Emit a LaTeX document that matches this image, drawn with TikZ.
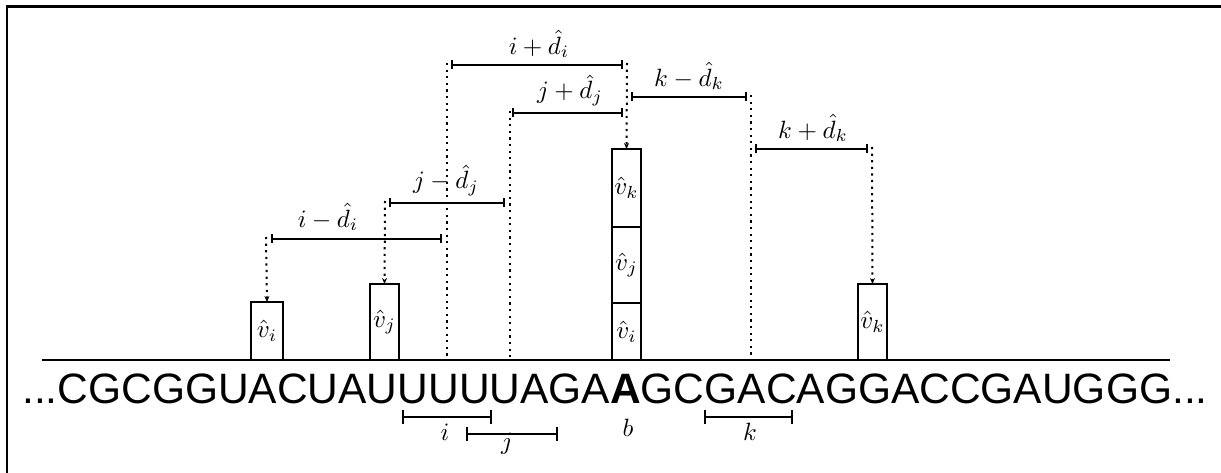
\documentclass[tikz,border=0pt]{standalone}
\usepackage{fontspec}
\usepackage{graphicx}
\newfontfamily\seqfont{Liberation Sans}
\usetikzlibrary{arrows.meta}
\newcommand\mlab[1]{\scalebox{2.5}{$#1$}}
\begin{document}
\begin{tikzpicture}[x=1pt,y=-1pt,
  vbox/.style={draw, line width=2pt, minimum width=29pt, inner sep=0pt, outer sep=0pt, anchor=south},
  lab/.style={inner sep=0pt},
  dimbar/.style={line width=2pt, {Bar[width=9pt,line width=1.6pt]}-{Bar[width=9pt,line width=1.6pt]}},
  lowbar/.style={line width=2pt, {Bar[width=14pt,line width=1.6pt]}-{Bar[width=14pt,line width=1.6pt]}},
  guide/.style={line width=2pt, dash pattern=on 2.2pt off 4.4pt},
  guidearr/.style={guide, -{Stealth[length=6pt,width=5pt]}},
  frame/.style={line width=2.6pt},
  axis/.style={line width=2pt}]
\useasboundingbox (0,0) rectangle (1221,473);
% frame
\coordinate (fb) at (7,474);
\coordinate (fc) at (7,6.5);
\coordinate (fr) at (1222,6.5);
\draw[frame] (fb) -- (fc) -- (fr);
% axis
\coordinate (axl) at (42,360);
\coordinate (axr) at (1170,360);
\draw[axis] (axl) -- (axr);
% sequence
\node[anchor=base west, inner sep=0pt, font=\seqfont\fontsize{42.5}{50}\selectfont] (seq) at (22,403)
  {...CGCGGUACUAUUUUUAGA\textbf{A}GCGACAGGACCGAUGGG...};
% boxes
\node[vbox, minimum width=32pt, minimum height=58pt] (vi) at (267,360) {\mlab{\hat v_i}};
\node[vbox, minimum height=76pt] (vj) at (384.5,360) {\mlab{\hat v_j}};
\node[vbox, minimum height=76pt] (vk) at (872.5,360) {\mlab{\hat v_k}};
\node[vbox, minimum height=57pt] (si) at (626.5,360) {\mlab{\hat v_i}};
\node[vbox, minimum height=76pt] (sj) at (si.north) {\mlab{\hat v_j}};
\node[vbox, minimum height=78pt] (sk) at (sj.north) {\mlab{\hat v_k}};
% guide lines
\coordinate (g1t) at (447,63);  \coordinate (g1b) at (447,360);
\coordinate (g2t) at (510,111); \coordinate (g2b) at (510,360);
\coordinate (g3t) at (627,63);
\coordinate (g4t) at (751,95);  \coordinate (g4b) at (751,360);
\coordinate (g5t) at (872,147);
\coordinate (g6t) at (266,237);
\coordinate (g7t) at (385,201);
\draw[guide] (g1t) -- (g1b);
\draw[guide] (g2t) -- (g2b);
\draw[guide] (g4t) -- (g4b);
\draw[guidearr] (g3t) -- (sk.north);
\draw[guidearr] (g5t) -- (vk.north);
\draw[guidearr] (g6t) -- (vi.north);
\draw[guidearr] (g7t) -- (vj.north);
% dimension bars
\coordinate (ipa) at (451,65);  \coordinate (ipb) at (623,65);
\coordinate (kma) at (631,97);  \coordinate (kmb) at (747,97);
\coordinate (jpa) at (512,113); \coordinate (jpb) at (623,113);
\coordinate (kpa) at (755,149); \coordinate (kpb) at (868,149);
\coordinate (jma) at (389,203); \coordinate (jmb) at (505,203);
\coordinate (ima) at (271,239); \coordinate (imb) at (442,239);
\draw[dimbar] (ipa) -- (ipb);
\draw[dimbar] (kma) -- (kmb);
\draw[dimbar] (jpa) -- (jpb);
\draw[dimbar] (kpa) -- (kpb);
\draw[dimbar] (jma) -- (jmb);
\draw[dimbar] (ima) -- (imb);
\node[lab, anchor=south] (ipl) at (539,58) {\mlab{i+\hat d_i}};
\node[lab, anchor=south] (kml) at (689,90) {\mlab{k-\hat d_k}};
\node[lab, anchor=south] (jpl) at (570,106) {\mlab{j+\hat d_j}};
\node[lab, anchor=south] (kpl) at (813,142) {\mlab{k+\hat d_k}};
\node[lab, anchor=south] (jml) at (446,196) {\mlab{j-\hat d_j}};
\node[lab, anchor=south] (iml) at (328,231) {\mlab{i-\hat d_i}};
% lower brackets
\coordinate (bia) at (402,417); \coordinate (bib) at (492,417);
\coordinate (bja) at (466,434); \coordinate (bjb) at (558,434);
\coordinate (bka) at (704,417); \coordinate (bkb) at (793,417);
\draw[lowbar] (bia) -- (bib);
\draw[lowbar] (bja) -- (bjb);
\draw[lowbar] (bka) -- (bkb);
\node[lab] (li) at (445,432) {\mlab{i}};
\node[lab] (lj) at (507,444) {\mlab{j}};
\node[lab] (lk) at (750,432) {\mlab{k}};
\node[lab] (lb) at (628,428) {\mlab{b}};
\end{tikzpicture}
\end{document}
